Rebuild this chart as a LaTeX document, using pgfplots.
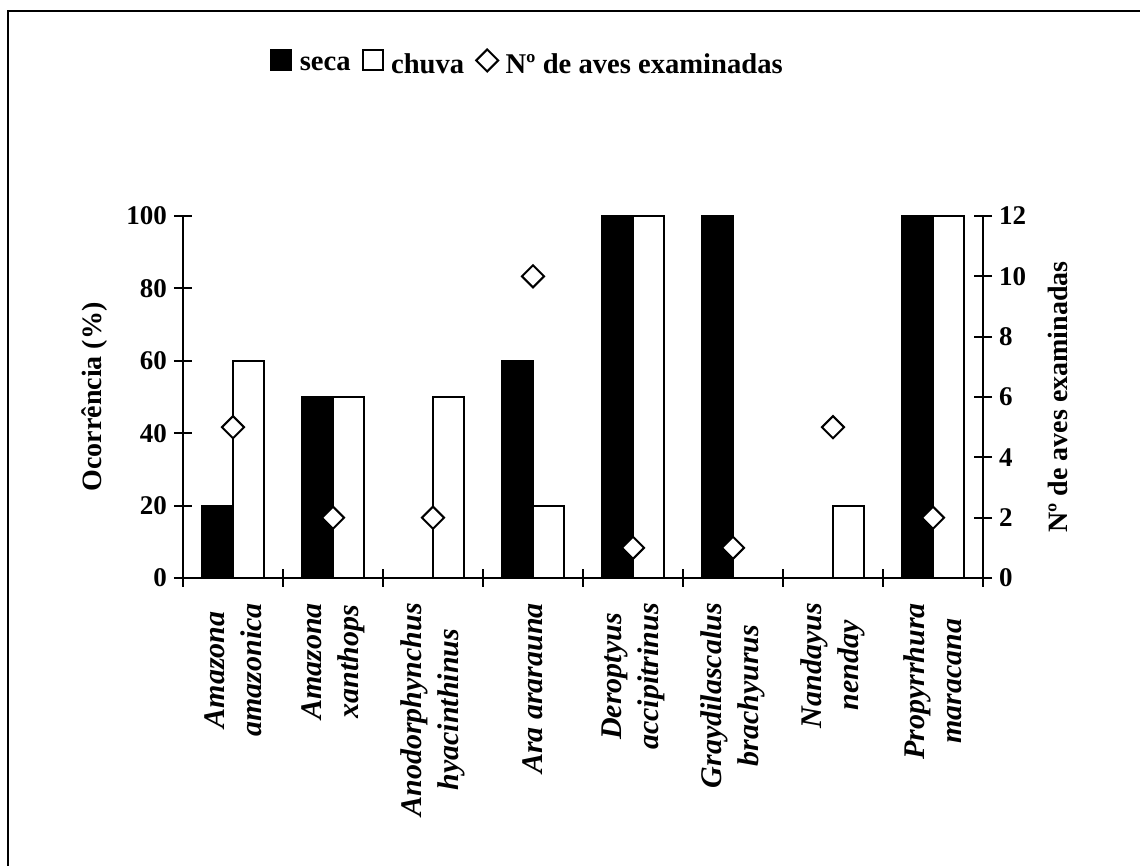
\documentclass[border=0pt]{standalone}
\usepackage{fontspec}
\setmainfont{Liberation Serif}
\usepackage{pgfplots}
\pgfplotsset{compat=1.18}
\begin{document}
\begin{tikzpicture}
\useasboundingbox (0,0) rectangle (570pt,433pt);
\draw[line width=1pt] (4pt,-5pt) -- (4pt,427.5pt) -- (575pt,427.5pt);
\pgfplotsset{
  common/.style={
    at={(91.5pt,144pt)}, anchor=south west,
    scale only axis, width=400pt, height=181pt,
    xmin=0, xmax=8,
    tick align=center, major tick length=9pt,
    axis line style={line width=1pt},
    every tick/.style={black, line width=1pt},
    /pgf/number format/assume math mode=true,
    ticklabel style={font=\fontsize{13.5}{16}\selectfont\bfseries},
  }
}
\begin{axis}[common,
  ymin=0, ymax=100,
  axis x line*=bottom, axis y line*=left,
  xtick={0,1,...,8}, xticklabels={},
  ytick={0,20,...,100},
  extra x ticks={0.5,1.5,...,7.5},
  extra x tick labels={
    {Amazona\\amazonica},
    {Amazona\\xanthops},
    {Anodorphynchus\\hyacinthinus},
    {Ara ararauna},
    {Deroptyus\\accipitrinus},
    {Graydilascalus\\brachyurus},
    {Nandayus\\nenday},
    {Propyrrhura\\maracana}},
  extra x tick style={major tick length=0pt,
    xticklabel style={yshift=-9pt, rotate=90, anchor=east, align=center,
      font=\fontsize{15}{18.5}\selectfont\bfseries\itshape}},
  every axis y label/.style={at={(axis description cs:-0.111,0.5)}, rotate=90, anchor=center,
    font=\fontsize{14}{16}\selectfont\bfseries},
  ylabel={Ocorrência (\%)},
]
\addplot[ybar, fill=black, draw=black, line width=1pt, bar width=0.31, bar shift=-0.155]
  coordinates {(0.5,20) (1.5,50) (2.5,0) (3.5,60) (4.5,100) (5.5,100) (6.5,0) (7.5,100)};
\addplot[ybar, fill=white, draw=black, line width=1pt, bar width=0.31, bar shift=0.155]
  coordinates {(0.5,60) (1.5,50) (2.5,50) (3.5,20) (4.5,100) (5.5,0) (6.5,20) (7.5,100)};
\end{axis}
\begin{axis}[common,
  ymin=0, ymax=12,
  axis y line*=right, axis x line=none,
  ytick={0,2,...,12},
  every axis y label/.style={at={(axis description cs:1.094,0.5)}, rotate=90, anchor=center,
    font=\fontsize{14}{16}\selectfont\bfseries},
  ylabel={Nº de aves examinadas},
  legend style={at={(axis description cs:0.432,1.418)}, anchor=center, draw=none, fill=none,
    legend columns=-1, font=\fontsize{14.3}{16}\selectfont\bfseries,
    /tikz/every even column/.append style={column sep=3.5pt}},
]
\addlegendimage{legend image code/.code={\draw[fill=black, draw=black, line width=1pt] (0pt,-2.5pt) rectangle (10pt,7.5pt); \path (12pt,2.5pt);}}
\addlegendentry{seca}
\addlegendimage{legend image code/.code={\draw[fill=white, draw=black, line width=1pt] (0pt,-2.5pt) rectangle (10pt,7.5pt); \path (12pt,2.5pt);}}
\addlegendentry{chuva}
\addplot[only marks, mark=square*, mark size=3.9pt,
  mark options={rotate=45, fill=white, draw=black, line width=1pt},
  legend image code/.code={\draw[fill=white, draw=black, line width=1pt] (5pt,8pt) -- (10.5pt,2.5pt) -- (5pt,-3pt) -- (-0.5pt,2.5pt) -- cycle; \path (12pt,2.5pt);}]
  coordinates {(0.5,5) (1.5,2) (2.5,2) (3.5,10) (4.5,1) (5.5,1) (6.5,5) (7.5,2)};
\addlegendentry{Nº de aves examinadas}
\end{axis}
\end{tikzpicture}
\end{document}
